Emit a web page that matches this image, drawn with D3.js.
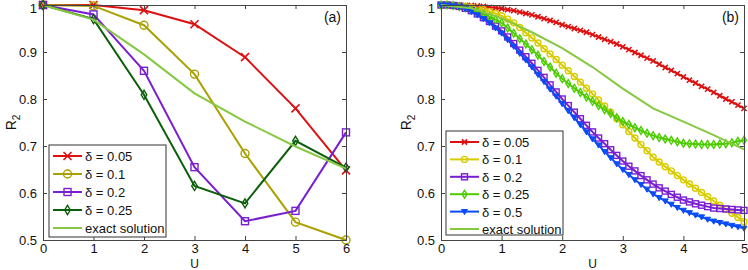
<!doctype html>
<html lang="en">
<head>
<meta charset="utf-8">
<title>R2 vs U</title>
<script src="https://cdn.jsdelivr.net/npm/d3@7"></script>
<style>
  body { margin: 0; background: #fff; }
  svg text { font-family: "Liberation Sans", Arial, sans-serif; fill: #111; }
</style>
</head>
<body>
<svg id="chart" width="748" height="270"></svg>
<script>
// ---------- data, panel (a) ----------
var uA = [0, 1, 2, 3, 4, 5, 6];
var a005 = [1.000, 1.000, 0.989, 0.959, 0.889, 0.780, 0.648];
var a010 = [1.000, 0.998, 0.957, 0.853, 0.684, 0.538, 0.500];
var a020 = [1.000, 0.980, 0.860, 0.655, 0.540, 0.562, 0.729];
var a025 = [1.000, 0.970, 0.809, 0.615, 0.578, 0.711, 0.654];
var aExact = [1.000, 0.969, 0.895, 0.812, 0.752, 0.699, 0.652];

// ---------- data, panel (b) ----------
var uB = d3.range(51).map(function(i) { return +(i / 10).toFixed(1); });
var b005 = [1.000, 1.000, 1.000, 1.000, 0.999, 0.999, 0.998, 0.997, 0.995, 0.994, 0.992,
            0.990, 0.988, 0.985, 0.982, 0.979, 0.975, 0.971, 0.967, 0.963, 0.958,
            0.954, 0.950, 0.946, 0.942, 0.937, 0.932, 0.927, 0.922, 0.917, 0.911,
            0.905, 0.899, 0.893, 0.887, 0.881, 0.874, 0.867, 0.861, 0.854, 0.847,
            0.840, 0.834, 0.827, 0.821, 0.814, 0.807, 0.800, 0.794, 0.787, 0.780];
var b010 = [1.000, 1.000, 0.999, 0.998, 0.997, 0.995, 0.993, 0.990, 0.986, 0.982, 0.977,
            0.970, 0.962, 0.952, 0.941, 0.930, 0.919, 0.907, 0.896, 0.884, 0.872,
            0.860, 0.848, 0.836, 0.823, 0.811, 0.798, 0.785, 0.772, 0.758, 0.745,
            0.731, 0.717, 0.703, 0.690, 0.676, 0.666, 0.656, 0.647, 0.637, 0.628,
            0.619, 0.610, 0.601, 0.592, 0.583, 0.574, 0.566, 0.557, 0.548, 0.539];
var b020 = [1.000, 1.000, 0.999, 0.997, 0.993, 0.988, 0.981, 0.973, 0.965, 0.955, 0.945,
            0.932, 0.918, 0.904, 0.890, 0.876, 0.861, 0.846, 0.830, 0.815, 0.800,
            0.786, 0.772, 0.758, 0.744, 0.730, 0.717, 0.705, 0.692, 0.680, 0.668,
            0.657, 0.647, 0.637, 0.628, 0.619, 0.611, 0.604, 0.597, 0.591, 0.585,
            0.581, 0.577, 0.574, 0.571, 0.568, 0.567, 0.566, 0.565, 0.564, 0.563];
var b025 = [1.000, 1.000, 0.999, 0.997, 0.994, 0.990, 0.986, 0.981, 0.975, 0.969, 0.962,
            0.951, 0.940, 0.928, 0.917, 0.905, 0.893, 0.880, 0.868, 0.855, 0.843,
            0.833, 0.823, 0.814, 0.804, 0.795, 0.786, 0.777, 0.769, 0.760, 0.752,
            0.746, 0.739, 0.733, 0.727, 0.722, 0.718, 0.715, 0.712, 0.709, 0.706,
            0.705, 0.704, 0.703, 0.703, 0.703, 0.704, 0.705, 0.707, 0.710, 0.712];
var b050 = [1.000, 1.000, 0.998, 0.996, 0.992, 0.986, 0.979, 0.971, 0.962, 0.951, 0.940,
            0.926, 0.912, 0.897, 0.883, 0.868, 0.852, 0.837, 0.821, 0.806, 0.790,
            0.775, 0.760, 0.745, 0.730, 0.715, 0.702, 0.688, 0.675, 0.662, 0.650,
            0.639, 0.628, 0.618, 0.608, 0.598, 0.590, 0.583, 0.576, 0.569, 0.563,
            0.558, 0.553, 0.549, 0.544, 0.540, 0.537, 0.534, 0.531, 0.528, 0.525];
var uExactB = [0, 0.5, 1, 1.5, 2, 2.5, 3, 3.5, 4, 4.5, 5];
var bExact = [1.000, 0.993, 0.972, 0.942, 0.908, 0.868, 0.822, 0.780, 0.752, 0.723, 0.693];

var yTicks = [0.5, 0.6, 0.7, 0.8, 0.9, 1];

var svg = d3.select("#chart");

function zip(xs, ys) { return xs.map(function(x, i) { return [x, ys[i]]; }); }

function marker(g, type, x, y, s, color) {
  if (type == "x") {
    g.append("path").attr("d", "M" + (x - s) + "," + (y - s) + "L" + (x + s) + "," + (y + s) +
        "M" + (x - s) + "," + (y + s) + "L" + (x + s) + "," + (y - s))
      .attr("stroke", color).attr("stroke-width", 1.6).attr("fill", "none");
  } else if (type == "o") {
    g.append("circle").attr("cx", x).attr("cy", y).attr("r", s)
      .attr("stroke", color).attr("stroke-width", 1.4).attr("fill", "none");
  } else if (type == "s") {
    g.append("rect").attr("x", x - s).attr("y", y - s).attr("width", 2 * s).attr("height", 2 * s)
      .attr("stroke", color).attr("stroke-width", 1.4).attr("fill", "none");
  } else if (type == "d") {
    g.append("path").attr("d", "M" + x + "," + (y - s * 1.3) + "L" + (x + s * 0.8) + "," + y +
        "L" + x + "," + (y + s * 1.3) + "L" + (x - s * 0.8) + "," + y + "Z")
      .attr("stroke", color).attr("stroke-width", 1.4).attr("fill", "none");
  } else if (type == "v") {
    g.append("path").attr("d", "M" + (x - s) + "," + (y - s * 0.7) + "L" + (x + s) + "," + (y - s * 0.7) +
        "L" + x + "," + (y + s) + "Z")
      .attr("fill", color).attr("stroke", color).attr("stroke-width", 1);
  }
}

function panel(opt) {
  var x = d3.scaleLinear().domain(opt.xDomain).range([opt.left, opt.right]);
  var y = d3.scaleLinear().domain([0.5, 1]).range([opt.bottom, opt.top]);
  var g = svg.append("g");

  g.append("rect").attr("x", opt.left).attr("y", opt.top)
    .attr("width", opt.right - opt.left).attr("height", opt.bottom - opt.top)
    .attr("fill", "#fff");

  // series
  var clip = "clip" + opt.name;
  svg.append("clipPath").attr("id", clip).append("rect")
    .attr("x", opt.left - 6).attr("y", opt.top - 6)
    .attr("width", opt.right - opt.left + 12).attr("height", opt.bottom - opt.top + 12);
  var sg = g.append("g").attr("clip-path", "url(#" + clip + ")");
  var line = d3.line().x(function(d) { return x(d[0]); }).y(function(d) { return y(d[1]); });
  opt.series.forEach(function(s) {
    sg.append("path").datum(zip(s.u, s.v)).attr("d", line)
      .attr("fill", "none").attr("stroke", s.color).attr("stroke-width", s.width);
    if (s.mark) {
      s.u.forEach(function(u, i) { marker(sg, s.mark, x(u), y(s.v[i]), s.size, s.color); });
    }
  });

  // axes (ticks inward, on all four sides)
  var tl = 4;
  g.append("g").attr("transform", "translate(0," + opt.bottom + ")")
    .call(d3.axisBottom(x).ticks(opt.xDomain[1]).tickSize(-tl).tickPadding(4).tickFormat(d3.format("d")));
  g.append("g").attr("transform", "translate(0," + opt.top + ")")
    .call(d3.axisTop(x).ticks(opt.xDomain[1]).tickSize(-tl).tickFormat(""));
  var yAxis = g.append("g").attr("transform", "translate(" + opt.left + ",0)")
    .call(d3.axisLeft(y).tickValues(yTicks).tickSize(-tl).tickPadding(6).tickFormat(d3.format("~g")));
  g.append("g").attr("transform", "translate(" + opt.right + ",0)")
    .call(d3.axisRight(y).tickValues(yTicks).tickSize(-tl).tickFormat(""));
  g.selectAll(".domain").attr("stroke", "#444");
  g.selectAll(".tick line").attr("stroke", "#444");
  g.selectAll(".tick text").style("font-size", "13px").attr("fill", "#111");
  // top label "1" sits at the very edge; nudge it down a touch so it stays visible
  yAxis.selectAll(".tick").filter(function(d) { return d == 1; }).select("text").attr("dy", "0.55em");

  // labels
  g.append("text").attr("x", (opt.left + opt.right) / 2).attr("y", 268)
    .attr("text-anchor", "middle").style("font-size", "12px").text("U");
  var yl = g.append("text").attr("transform", "translate(" + opt.ylabelX + "," + ((opt.top + opt.bottom) / 2) + ") rotate(-90)")
    .attr("text-anchor", "middle").style("font-size", "14px");
  yl.append("tspan").text("R");
  yl.append("tspan").attr("dy", 4).style("font-size", "10px").text("2");
  g.append("text").attr("x", opt.right - 5).attr("y", opt.top + 17)
    .attr("text-anchor", "end").style("font-size", "14px").text(opt.tag);

  // legend
  var L = opt.legend;
  var lg = g.append("g");
  lg.append("rect").attr("x", L.x).attr("y", L.y).attr("width", L.w).attr("height", L.h)
    .attr("fill", "#fff").attr("stroke", "#333").attr("stroke-width", 1);
  opt.series.forEach(function(s, i) {
    var yy = L.y + 11 + i * L.step;
    lg.append("line").attr("x1", L.x + 4).attr("x2", L.x + 33).attr("y1", yy).attr("y2", yy)
      .attr("stroke", s.color).attr("stroke-width", s.width);
    if (s.mark) marker(lg, s.mark, L.x + 18.5, yy, s.size, s.color);
    lg.append("text").attr("x", L.x + 36).attr("y", yy + 5).style("font-size", "13px").text(s.label);
  });
}

panel({
  name: "a", tag: "(a)", xDomain: [0, 6],
  left: 43, right: 346, top: 5, bottom: 240, ylabelX: 16,
  legend: { x: 49, y: 145, w: 117, h: 92, step: 18 },
  series: [
    { u: uA, v: a005, color: "#dd1111", width: 2, mark: "x", size: 4, label: "\u03b4 = 0.05" },
    { u: uA, v: a010, color: "#aaa000", width: 2, mark: "o", size: 4, label: "\u03b4 = 0.1" },
    { u: uA, v: a020, color: "#7a1ed2", width: 2, mark: "s", size: 3.5, label: "\u03b4 = 0.2" },
    { u: uA, v: a025, color: "#0b5f0b", width: 2, mark: "d", size: 3.5, label: "\u03b4 = 0.25" },
    { u: uA, v: aExact, color: "#86c840", width: 2, mark: null, label: "exact solution" }
  ]
});

panel({
  name: "b", tag: "(b)", xDomain: [0, 5],
  left: 441, right: 744, top: 5, bottom: 240, ylabelX: 411,
  legend: { x: 446, y: 131, w: 117, h: 104, step: 17.4 },
  series: [
    { u: uB, v: b005, color: "#dd1111", width: 2, mark: "x", size: 2.6, label: "\u03b4 = 0.05" },
    { u: uB, v: b010, color: "#d8cc00", width: 2, mark: "o", size: 3, label: "\u03b4 = 0.1" },
    { u: uB, v: b020, color: "#7a1ed2", width: 2, mark: "s", size: 3, label: "\u03b4 = 0.2" },
    { u: uB, v: b025, color: "#4ccc00", width: 2, mark: "d", size: 3, label: "\u03b4 = 0.25" },
    { u: uB, v: b050, color: "#0a4cf5", width: 2, mark: "v", size: 3, label: "\u03b4 = 0.5" },
    { u: uExactB, v: bExact, color: "#86c840", width: 2, mark: null, label: "exact solution" }
  ]
});
</script>
</body>
</html>
